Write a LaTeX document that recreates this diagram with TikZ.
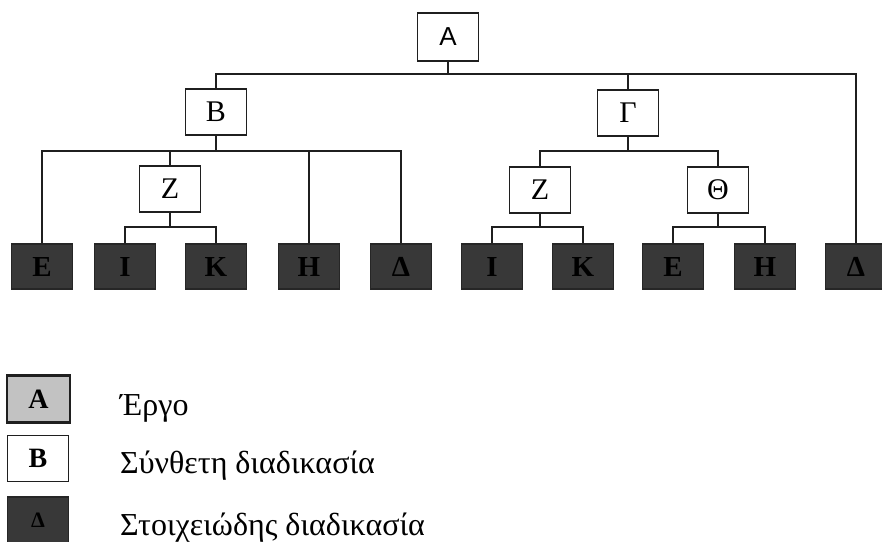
\documentclass[tikz,border=0pt]{standalone}
\usepackage{fontspec}
\setmainfont{Liberation Serif}
\newfontfamily\labelsans{Liberation Sans}
\begin{document}
\begin{tikzpicture}[x=1pt,y=-1pt,
  conn/.style={draw=black!88,line width=1.4pt},
  wbox/.style={draw=black!88,line width=1.8pt,fill=white,minimum width=61pt,minimum height=46pt,inner sep=0pt,font=\fontsize{30}{30}\selectfont},
  leaf/.style={draw=black!85,line width=1.2pt,fill=black!78,text=black,minimum width=61pt,minimum height=45pt,inner sep=0pt,font=\fontsize{29}{29}\selectfont\bfseries},
  projbox/.style={wbox,fill=black!24,line width=2.2pt,font=\fontsize{28}{28}\selectfont\bfseries},
  legtext/.style={anchor=base west,inner sep=0pt,font=\fontsize{32}{32}\selectfont}]
\useasboundingbox (0,0) rectangle (882,541);

% tree nodes
\node[wbox,minimum height=48pt,font=\fontsize{26}{26}\labelsans] (A) at (448,37) {Α};
\node[wbox] (B) at (216,112) {Β};
\node[wbox] (G) at (628,113) {Γ};
\node[wbox] (Z1) at (170,189) {Ζ};
\node[wbox] (Z2) at (540,190) {Ζ};
\node[wbox] (T) at (718,190) {Θ};

% elementary processes
\node[leaf] (E1) at (42,266.5) {Ε};
\node[leaf] (I1) at (125,266.5) {Ι};
\node[leaf] (K1) at (216,266.5) {Κ};
\node[leaf] (H1) at (309,266.5) {Η};
\node[leaf] (D1) at (401,266.5) {Δ};
\node[leaf] (I2) at (492,266.5) {Ι};
\node[leaf] (K2) at (583,266.5) {Κ};
\node[leaf] (E2) at (673,266.5) {Ε};
\node[leaf] (H2) at (765,266.5) {Η};
\node[leaf] (D2) at (856,266.5) {Δ};

% bus levels
\coordinate (busA) at (448,74);
\coordinate (busB) at (216,151);
\coordinate (busG) at (628,151);
\coordinate (busZ1) at (170,227);
\coordinate (busZ2) at (540,227);
\coordinate (busT) at (718,227);

% connectors
\draw[conn] (A.south) -- (A.south |- busA);
\draw[conn] (B.north) -- (B.north |- busA) -| (D2.north);
\draw[conn] (G.north) -- (G.north |- busA);

\draw[conn] (B.south) -- (B.south |- busB);
\draw[conn] (E1.north) -- (E1.north |- busB) -| (D1.north);
\draw[conn] (Z1.north) -- (Z1.north |- busB);
\draw[conn] (H1.north) -- (H1.north |- busB);

\draw[conn] (G.south) -- (G.south |- busG);
\draw[conn] (Z2.north) -- (Z2.north |- busG) -| (T.north);

\draw[conn] (Z1.south) -- (Z1.south |- busZ1);
\draw[conn] (I1.north) -- (I1.north |- busZ1) -| (K1.north);

\draw[conn] (Z2.south) -- (Z2.south |- busZ2);
\draw[conn] (I2.north) -- (I2.north |- busZ2) -| (K2.north);

\draw[conn] (T.south) -- (T.south |- busT);
\draw[conn] (E2.north) -- (E2.north |- busT) -| (H2.north);

% legend
\node[projbox,minimum width=63pt,minimum height=47pt] (LA) at (38.5,399) {Α};
\node[wbox,minimum width=61pt,minimum height=46pt,font=\fontsize{28}{28}\selectfont\bfseries] (LB) at (38,458.5) {Β};
\node[leaf,minimum width=61pt,minimum height=46pt,font=\fontsize{22}{22}\selectfont\bfseries] (LD) at (38,520) {Δ};
\node[legtext] (tA) at (120,415) {Έργο};
\node[legtext] (tB) at (120,473) {Σύνθετη διαδικασία};
\node[legtext] (tD) at (120,535) {Στοιχειώδης διαδικασία};
\end{tikzpicture}
\end{document}
